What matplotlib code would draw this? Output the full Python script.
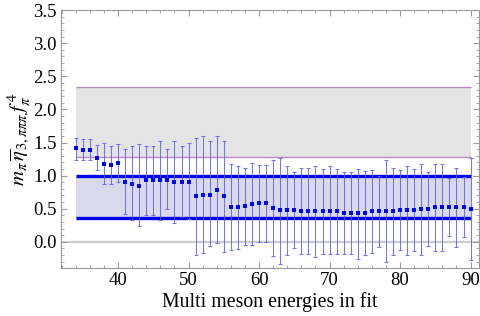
import numpy as np
import matplotlib
matplotlib.use("Agg")
import matplotlib.pyplot as plt
from matplotlib.ticker import MultipleLocator

plt.rcParams['font.family'] = ['Liberation Serif', 'DejaVu Serif']
plt.rcParams['mathtext.fontset'] = 'stix'

# fit results vs. number of multi meson energies used
n_energies = np.arange(34, 91)
central = [1.41, 1.39, 1.39, 1.27, 1.18, 1.16, 1.19, 0.91, 0.88, 0.85,
           0.93, 0.93, 0.93, 0.94, 0.90, 0.91, 0.91, 0.69, 0.71, 0.71,
           0.78, 0.69, 0.52, 0.52, 0.54, 0.57, 0.58, 0.58, 0.51, 0.48,
           0.48, 0.48, 0.47, 0.47, 0.47, 0.47, 0.47, 0.47, 0.44, 0.44,
           0.43, 0.44, 0.47, 0.47, 0.47, 0.47, 0.48, 0.48, 0.48, 0.49,
           0.49, 0.52, 0.52, 0.52, 0.52, 0.52, 0.50]
upper = [1.57, 1.56, 1.56, 1.46, 1.49, 1.45, 1.47, 1.40, 1.44, 1.47,
         1.44, 1.44, 1.52, 1.40, 1.52, 1.45, 1.49, 1.57, 1.60, 1.52,
         1.60, 1.53, 1.17, 1.14, 1.12, 1.19, 1.16, 1.16, 1.23, 1.27,
         1.15, 1.05, 1.11, 1.11, 1.15, 1.10, 1.14, 1.10, 1.05, 1.05,
         1.10, 1.07, 1.09, 1.00, 1.23, 1.12, 1.08, 1.14, 1.10, 1.18,
         1.05, 1.18, 1.18, 0.96, 1.12, 0.98, 1.27]
lower = [1.23, 1.23, 1.23, 1.08, 0.88, 0.87, 0.91, 0.42, 0.33, 0.24,
         0.41, 0.41, 0.33, 0.49, 0.28, 0.38, 0.34, -0.195, -0.17, -0.07,
         -0.02, -0.15, -0.13, -0.11, -0.05, -0.05, 0.0, 0.0, -0.22, -0.33,
         -0.20, -0.10, -0.18, -0.18, -0.23, -0.19, -0.19, -0.19, -0.19, -0.19,
         -0.26, -0.195, -0.17, -0.08, -0.30, -0.20, -0.12, -0.195, -0.14, -0.195,
         -0.07, -0.14, -0.14, 0.09, -0.08, 0.07, -0.28]

blue_band = (0.36, 1.0)
grey_band = (1.28, 2.34)

central = np.array(central)
yerr = [central - np.array(lower), np.array(upper) - central]

fig = plt.figure(figsize=(4.8, 3.16), dpi=100)
ax = fig.add_axes([0.127, 0.151, 0.871, 0.817])

x0, x1 = n_energies[0], n_energies[-1]
ax.axhline(0, color='#cccccc', lw=1.6, zorder=0)
ax.fill_between([x0, x1], grey_band[0], grey_band[1], color='#e4e4e4', lw=0, zorder=1)
ax.hlines(grey_band, x0, x1, color='#b88cc0', lw=1.0, zorder=1.5)
ax.fill_between([x0, x1], blue_band[0], blue_band[1], color='#d9d9ec', lw=0, zorder=1)
ax.hlines(blue_band, x0, x1, color='#0000ee', lw=2.4, zorder=2)

ax.errorbar(n_energies, central, yerr=yerr, fmt='none', ecolor='#5c5cff',
            elinewidth=0.75, capsize=1.2, capthick=0.75, alpha=0.85, zorder=3)
ax.plot(n_energies, central, 's', color='#0000ff', ms=2.4, mew=0, zorder=4)

ax.set_xlim(31.9, 91.2)
ax.set_ylim(-0.4, 3.5)
ax.xaxis.set_major_locator(MultipleLocator(10))
ax.xaxis.set_minor_locator(MultipleLocator(2))
ax.yaxis.set_major_locator(MultipleLocator(0.5))
ax.yaxis.set_minor_locator(MultipleLocator(0.1))
ax.yaxis.set_major_formatter(matplotlib.ticker.FormatStrFormatter('%.1f'))

for s in ax.spines.values():
    s.set_color('#999999')
    s.set_linewidth(0.8)
ax.tick_params(which='both', direction='in', top=True, right=True,
               color='#999999', labelsize=13.5, pad=3)
ax.tick_params(which='major', length=4, width=0.8)
ax.tick_params(which='minor', length=2.2, width=0.6)

ax.set_xlabel('Multi meson energies in fit', fontsize=14.3, labelpad=2)
ax.set_ylabel(r'$m_\pi\,\overline{\eta}_{3,\pi\pi\pi}\,f_\pi^{\,4}$', fontsize=15, labelpad=1)

fig.savefig('out.png', dpi=100)
